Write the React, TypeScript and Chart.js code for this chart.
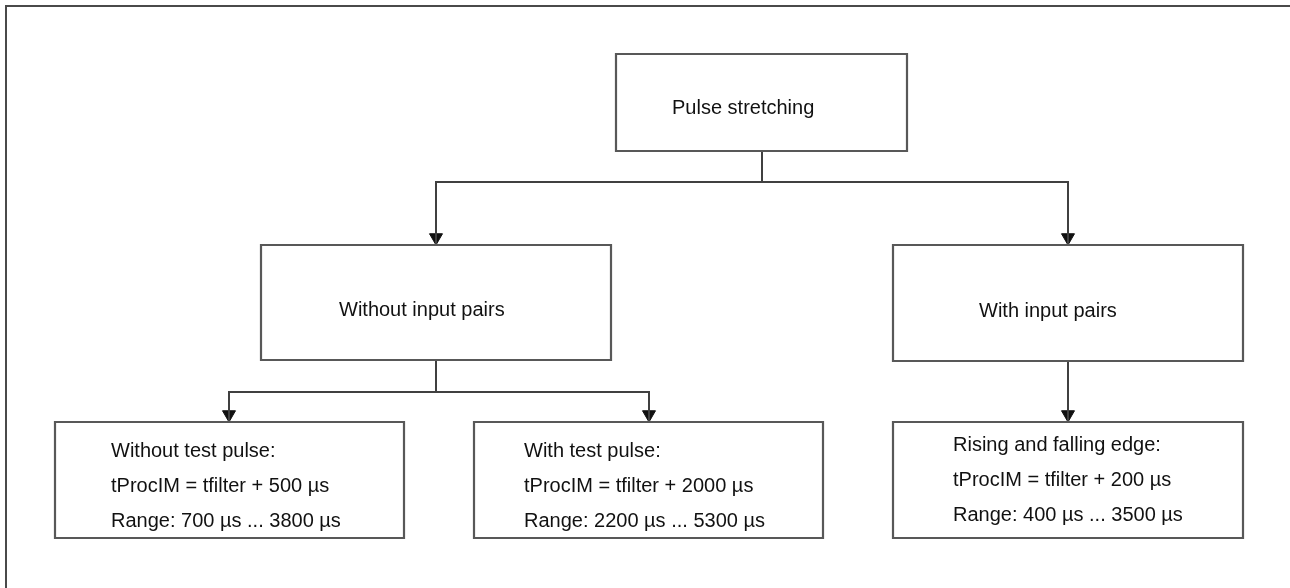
import React, { useEffect, useRef } from "react";
import { Chart, registerables } from "chart.js";

Chart.register(...registerables);

// ---- content ----
const nodeLabels: string[][] = [
  ["Pulse stretching"],
  ["Without input pairs"],
  ["With input pairs"],
  ["Without test pulse:", "tProcIM = tfilter + 500 µs", "Range: 700 µs ... 3800 µs"],
  ["With test pulse:", "tProcIM = tfilter + 2000 µs", "Range: 2200 µs ... 5300 µs"],
  ["Rising and falling edge:", "tProcIM = tfilter + 200 µs", "Range: 400 µs ... 3500 µs"],
];

// ---- layout (diagram coordinate space, 1290 x 588) ----
const boxLeft = [616, 261, 893, 55, 474, 893];
const boxTop = [54, 245, 245, 422, 422, 422];
const boxRight = [907, 611, 1243, 404, 823, 1243];
const boxBottom = [151, 360, 361, 538, 538, 538];
const textX = [672, 339, 979, 111, 524, 953];
const textY = [108, 310, 311, 451, 451, 445];
const lineGap = 35;

// connectors: polylines [x, y][]
const connectors: number[][][] = [
  [[762, 151], [762, 182]],
  [[436, 245], [436, 182], [1068, 182], [1068, 245]],
  [[436, 360], [436, 392]],
  [[229, 422], [229, 392], [649, 392], [649, 422]],
  [[1068, 361], [1068, 422]],
];
// arrow tips
const arrowTipX = [436, 1068, 229, 649, 1068];
const arrowTipY = [245, 245, 422, 422, 422];
const arrowRadius = 7.5;

const frame: number[][] = [[6, 620], [6, 6], [1320, 6]];

export default function App() {
  const ref = useRef<HTMLCanvasElement | null>(null);

  useEffect(() => {
    document.body.style.margin = "0";
    const canvas = ref.current!;
    const datasets: any[] = [];

    datasets.push({
      data: frame.map(([x, y]) => ({ x, y })),
      showLine: true,
      borderColor: "#4a4a4a",
      borderWidth: 2,
      pointRadius: 0,
      clip: false,
      borderJoinStyle: "miter",
    });

    nodeLabels.forEach((_, i) => {
      const l = boxLeft[i], t = boxTop[i], r = boxRight[i], b = boxBottom[i];
      const m = (l + r) / 2;
      datasets.push({
        data: [
          { x: m, y: t }, { x: r, y: t }, { x: r, y: b }, { x: l, y: b }, { x: l, y: t }, { x: m, y: t },
        ],
        showLine: true,
        borderColor: "#585858",
        borderWidth: 2.2,
        pointRadius: 0,
        clip: false,
        borderJoinStyle: "miter",
        fill: false,
      });
    });

    connectors.forEach((pl) => {
      datasets.push({
        data: pl.map(([x, y]) => ({ x, y })),
        showLine: true,
        borderColor: "#404040",
        borderWidth: 2,
        pointRadius: 0,
        clip: false,
        borderJoinStyle: "miter",
      });
    });

    datasets.push({
      data: arrowTipX.map((x, i) => ({ x, y: arrowTipY[i] - arrowRadius })),
      showLine: false,
      pointStyle: "triangle",
      rotation: 180,
      pointRadius: arrowRadius,
      pointBackgroundColor: "#111111",
      pointBorderColor: "#111111",
      pointBorderWidth: 1,
      clip: false,
    });

    const textPlugin = {
      id: "nodeText",
      afterDatasetsDraw(chart: any) {
        const { ctx, scales } = chart;
        ctx.save();
        ctx.font = '20px "Liberation Sans", Arial, sans-serif';
        ctx.fillStyle = "#111111";
        ctx.textBaseline = "middle";
        ctx.textAlign = "left";
        nodeLabels.forEach((lines, i) => {
          lines.forEach((s, j) => {
            const px = scales.x.getPixelForValue(textX[i]);
            const py = scales.y.getPixelForValue(textY[i] + j * lineGap);
            ctx.fillText(s, px, py);
          });
        });
        ctx.restore();
      },
    };

    const chart = new Chart(canvas, {
      type: "scatter",
      data: { datasets },
      options: {
        animation: false,
        responsive: false,
        devicePixelRatio: 1,
        events: [],
        layout: { padding: 0, autoPadding: false },
        plugins: { legend: { display: false }, tooltip: { enabled: false } },
        scales: {
          x: { type: "linear", min: 0, max: 1290, display: false },
          y: { type: "linear", min: 0, max: 588, reverse: true, display: false },
        },
      },
      plugins: [textPlugin],
    });
    return () => chart.destroy();
  }, []);

  return (
    <div style={{ position: "absolute", left: 0, top: 0, width: 1290, height: 588, background: "#fff" }}>
      <canvas ref={ref} width={1290} height={588} style={{ display: "block" }} />
    </div>
  );
}
